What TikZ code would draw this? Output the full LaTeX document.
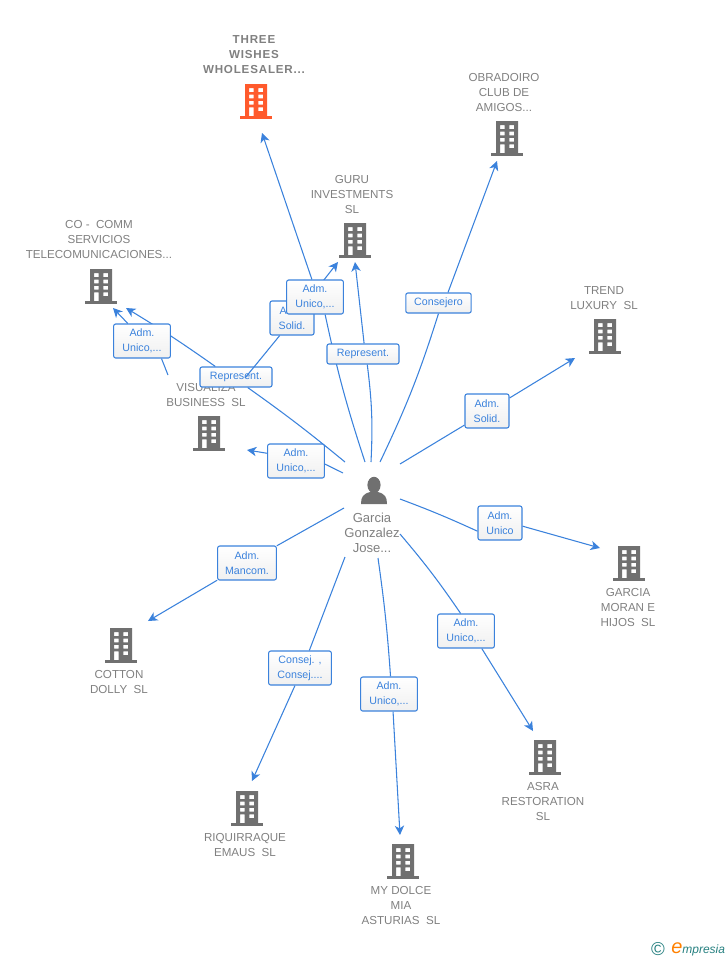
\documentclass[tikz,border=0pt]{standalone}
\usepackage{fontspec}
\setmainfont{Liberation Sans}
\usetikzlibrary{arrows.meta}
\definecolor{linkblue}{HTML}{3B82DC}
\definecolor{iconfill}{HTML}{707070}
\definecolor{mainfill}{HTML}{FF5A2C}
\definecolor{labelgray}{HTML}{808080}
\pgfdeclarelayer{edges}
\pgfsetlayers{edges,main}
\tikzset{
  x=0.75pt,y=-0.75pt,
  firm/.style={text=labelgray,align=center,inner sep=0pt,font=\fontsize{8.7}{11.25}\selectfont},
  rel/.style={draw=linkblue,line width=0.8pt,rounded corners=1.5pt,top color=white,bottom color=gray!12,text=linkblue,align=center,inner sep=0pt,minimum height=25.5pt,font=\fontsize{8}{11.25}\selectfont},
  link/.style={draw=linkblue,line width=0.8pt},
  linkto/.style={link,-{Stealth[length=7pt,width=7pt,inset=2pt]}},
  building/.pic={
    \fill[even odd rule,pic actions] (-11,0) rectangle (11,32)
      (-7,4.2) rectangle (-2.4,8) (2.4,4.2) rectangle (7,8)
      (-7,10.5) rectangle (-2.4,14.3) (2.4,10.5) rectangle (7,14.3)
      (-7,16.8) rectangle (-2.4,20.6) (2.4,16.8) rectangle (7,20.6)
      (-7,23.4) rectangle (-2.4,32) (2.4,23.4) rectangle (7,27.2);
    \fill[pic actions] (-16,32) rectangle (16,35);
  }
}
\begin{document}
\begin{tikzpicture}
\useasboundingbox (0,0) rectangle (728,960);
\pic[fill=mainfill] at (256,84) {building};
\pic[fill=iconfill] at (507,121) {building};
\pic[fill=iconfill] at (355,223) {building};
\pic[fill=iconfill] at (101,269) {building};
\pic[fill=iconfill] at (605,319) {building};
\pic[fill=iconfill] at (209,416) {building};
\pic[fill=iconfill] at (629,546) {building};
\pic[fill=iconfill] at (121,628) {building};
\pic[fill=iconfill] at (545,740) {building};
\pic[fill=iconfill] at (247,791) {building};
\pic[fill=iconfill] at (403,844) {building};

\node[firm,font=\fontsize{8.7}{11.25}\selectfont\bfseries\addfontfeatures{LetterSpace=7}] (three) at (254,55) {THREE\\WISHES\\WHOLESALER...};
\node[firm] (obradoiro) at (504,92.5) {OBRADOIRO\\CLUB DE\\AMIGOS...};
\node[firm] (guru) at (352,194.5) {GURU\\INVESTMENTS\\SL};
\node[firm] (cocomm) at (99,239.5) {CO - \ COMM\\SERVICIOS\\TELECOMUNICACIONES...};
\node[firm] (trend) at (604,298) {TREND\\LUXURY \ SL};
\node[firm] (visualiza) at (206,395.5) {VISUALIZA\\BUSINESS \ SL};
\node[firm] (moran) at (628,607.5) {GARCIA\\MORAN E\\HIJOS \ SL};
\node[firm] (cotton) at (119,682) {COTTON\\DOLLY \ SL};
\node[firm] (asra) at (543,801.5) {ASRA\\RESTORATION\\SL};
\node[firm] (riquirraque) at (245,845) {RIQUIRRAQUE\\EMAUS \ SL};
\node[firm] (dolce) at (401,905.5) {MY DOLCE\\MIA\\ASTURIAS \ SL};
\node[firm,font=\fontsize{9.8}{11.25}\selectfont] (garcia) at (372,532.5) {Garcia\\Gonzalez\\Jose...};

\fill[iconfill] (374,485) ellipse (6.6 and 8.2);
\fill[iconfill] (361,504) .. controls (361,497) and (363,494) .. (370,492) -- (378,492) .. controls (385,494) and (387,497) .. (387,504) -- cycle;

\node[rel,minimum width=54pt,minimum height=15pt] (repco) at (236,377) {Represent.};
\node[rel,minimum width=54pt,minimum height=15pt] (repguru) at (363,354) {Represent.};
\node[rel,minimum width=33pt] (solidguru) at (292,318) {Adm.\\Solid.};
\node[rel,minimum width=42.5pt] (unicothree) at (315,297) {Adm.\\Unico,...};
\node[rel,minimum width=42.5pt] (unicoco) at (142,341) {Adm.\\Unico,...};
\node[rel,minimum width=42.5pt] (unicovis) at (296,461) {Adm.\\Unico,...};
\node[rel,minimum width=49pt,minimum height=15pt] (consejero) at (438.5,303) {Consejero};
\node[rel,minimum width=33pt] (solidtrend) at (487,411) {Adm.\\Solid.};
\node[rel,minimum width=33pt] (unicomoran) at (500,523) {Adm.\\Unico};
\node[rel,minimum width=42.5pt] (unicoasra) at (466,631) {Adm.\\Unico,...};
\node[rel,minimum width=42.5pt] (unicodolce) at (389,694) {Adm.\\Unico,...};
\node[rel,minimum width=47pt] (consej) at (300,668) {Consej. ,\\Consej....};
\node[rel,minimum width=44pt] (mancom) at (247,563) {Adm.\\Mancom.};

\coordinate (threeend) at (262,133);
\coordinate (coend) at (126,308);
\coordinate (cotwo) at (113,308);
\coordinate (guruend) at (338,262);
\coordinate (gurutwo) at (355,262);
\coordinate (obradoiroend) at (497,161);
\coordinate (trendend) at (575,358);
\coordinate (visend) at (247,450);
\coordinate (moranend) at (600,548);
\coordinate (cottonend) at (148,621);
\coordinate (asraend) at (533,731);
\coordinate (riqend) at (252,781);
\coordinate (dolceend) at (400,835);

\begin{pgfonlayer}{edges}
\draw[link] (365,462) to[bend left=3] (unicothree.-60);
\draw[linkto] (unicothree.100) -- (threeend);
\draw[link] (345,462) to[bend right=2] (repco.-42);
\draw[linkto] (repco.153) to[bend right=2] (coend);
\draw[link] (371,462) to[bend right=5] (repguru.-68);
\draw[linkto] (repguru.84) -- (gurutwo);
\draw[linkto] (solidguru.48) -- (guruend);
\draw[link] (168,375) -- (unicoco.-42);
\draw[linkto] (unicoco.129) -- (cotwo);
\draw[link] (380,462) to[bend right=4] (consejero.-90);
\draw[linkto] (consejero.48) -- (obradoiroend);
\draw[link] (343,473) -- (unicovis.-6);
\draw[linkto] (unicovis.165) -- (visend);
\draw[link] (400,464) -- (solidtrend.212);
\draw[linkto] (solidtrend.30) -- (trendend);
\draw[link] (400,499) to[bend left=2] (unicomoran.200);
\draw[linkto] (unicomoran.-8) -- (moranend);
\draw[link] (400,534) to[bend left=3] (unicoasra.107);
\draw[linkto] (unicoasra.-48) -- (asraend);
\draw[link] (378,558) to[bend left=2] (unicodolce.85);
\draw[linkto] (unicodolce.-77) -- (dolceend);
\draw[link] (345,557) -- (consej.62);
\draw[linkto] (consej.-106) -- (riqend);
\draw[link] (344,508) -- (mancom.30);
\draw[linkto] (mancom.210) -- (cottonend);
\end{pgfonlayer}
\draw[link] (245,378) -- (solidguru.235);

\node[text=teal!70!gray,inner sep=0pt,font=\fontsize{14}{14}\selectfont] (copy) at (658,949) {©};
\node[text=teal!70!gray,inner sep=0pt,anchor=base west,font=\fontsize{9}{12}\selectfont\itshape] (logo) at (671,953) {{\fontsize{15}{12}\selectfont\color{orange}e}mpresia};
\end{tikzpicture}
\end{document}
